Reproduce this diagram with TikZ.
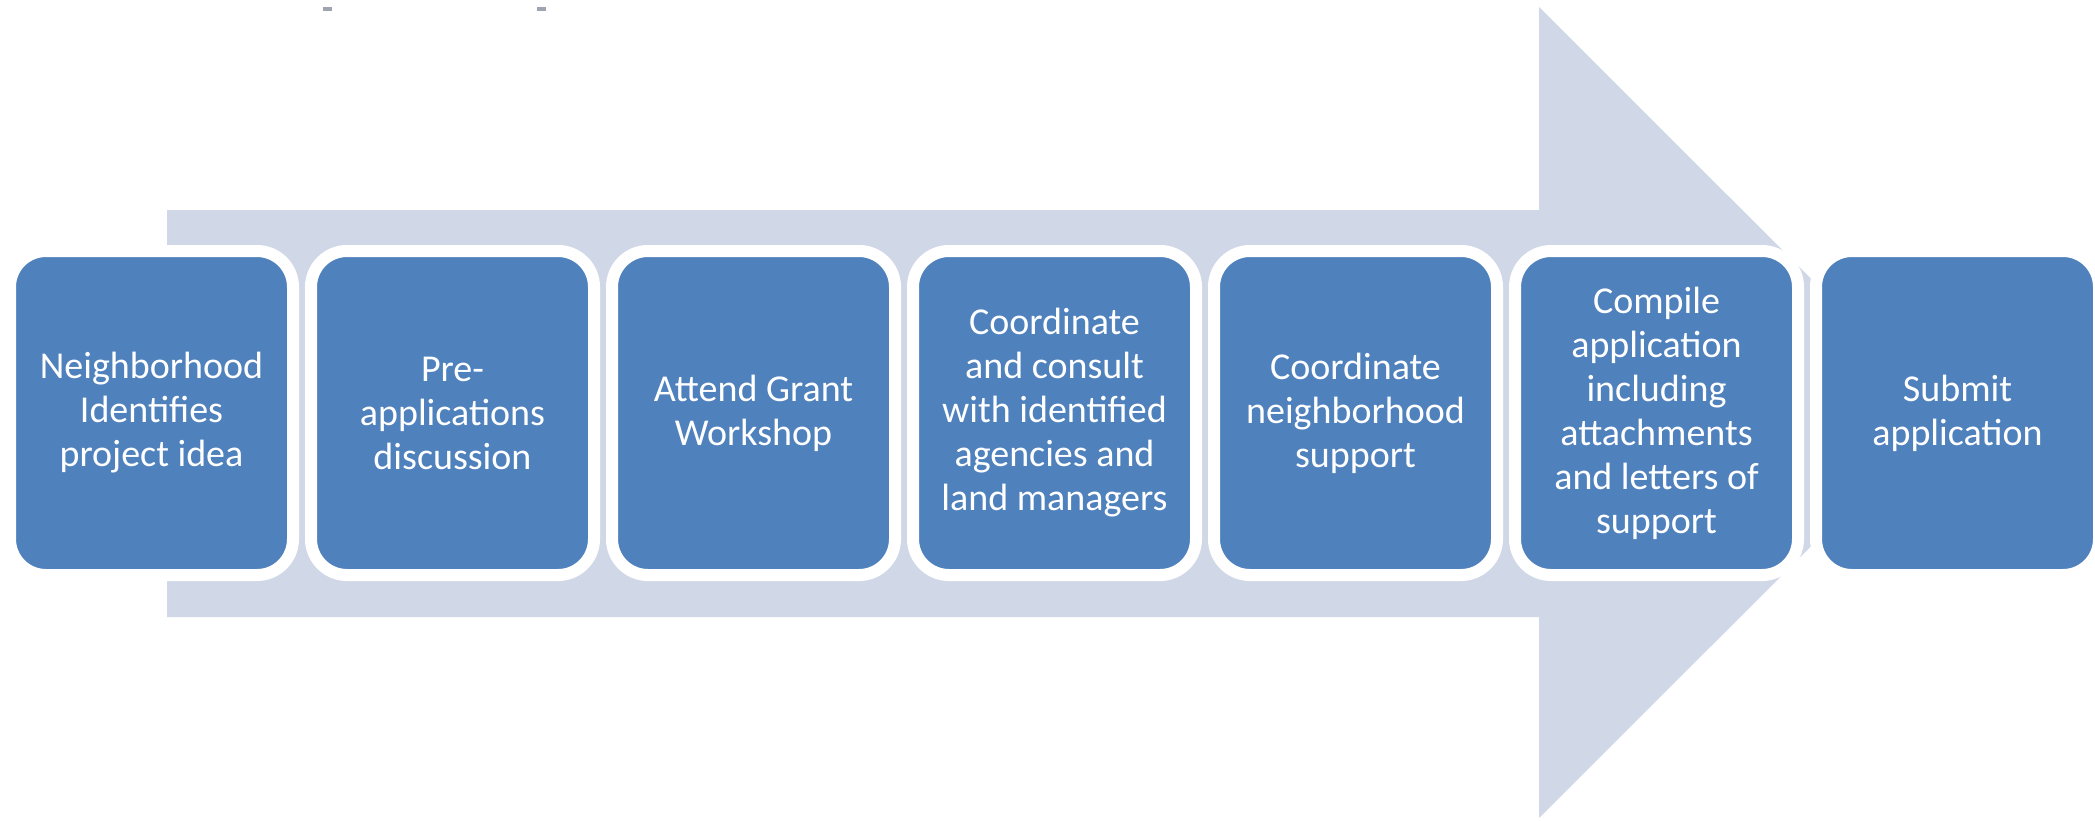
\documentclass[tikz,border=0pt]{standalone}
\usepackage{fontspec}
\setmainfont{Carlito}
\definecolor{boxblue}{HTML}{4F81BD}
\definecolor{arrowlight}{HTML}{D0D8E8}
\definecolor{speck}{HTML}{A0A4B0}
\begin{document}
\begin{tikzpicture}[x=1pt,y=-1pt,
  stepbox/.style={fill=boxblue, draw=white, line width=12pt, rounded corners=36pt,
    minimum width=283pt, minimum height=324pt, inner sep=0pt, align=center,
    text=white, font=\fontsize{38}{44}\selectfont}]
\useasboundingbox (0,0) rectangle (2095,820);
\fill[white] (0,0) rectangle (2095,820);
% big background arrow
\fill[arrowlight] (167,210) -- (1539,210) -- (1539,7) -- (1945,412.5) -- (1539,818) -- (1539,617) -- (167,617) -- cycle;
% tiny specks at top
\fill[speck] (323,7) rectangle (332,11);
\fill[speck] (537,7) rectangle (546,11);
% steps
\node[stepbox] (b1) at (151.5,413) {Neighborhood\\Identifies\\project idea};
\node[stepbox] (b2) at (452.5,413) {Pre-\\applications\\discussion};
\node[stepbox] (b3) at (753.5,413) {Attend Grant\\Workshop};
\node[stepbox] (b4) at (1054.5,413) {Coordinate\\and consult\\with identified\\agencies and\\land managers};
\node[stepbox] (b5) at (1355.5,413) {Coordinate\\neighborhood\\support};
\node[stepbox] (b6) at (1656.5,413) {Compile\\application\\including\\attachments\\and letters of\\support};
\node[stepbox] (b7) at (1957.5,413) {Submit\\application};
\end{tikzpicture}
\end{document}
